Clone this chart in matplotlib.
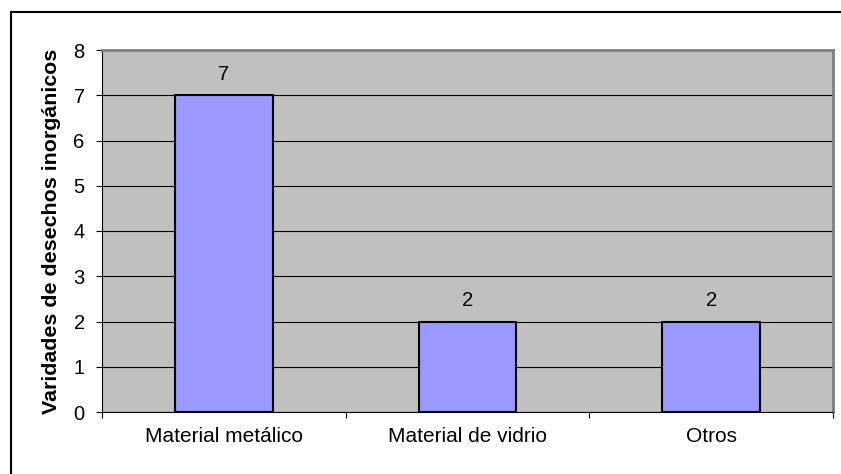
import matplotlib.pyplot as plt
from matplotlib.lines import Line2D

plt.rcParams['font.family'] = ['Liberation Sans', 'DejaVu Sans']

categorias = ['Material metálico', 'Material de vidrio', 'Otros']
cantidades = [7, 2, 2]
y_ticks = [0, 1, 2, 3, 4, 5, 6, 7, 8]

fig = plt.figure(figsize=(8.41, 4.74), dpi=100)
ax = fig.add_axes([102 / 841, 62 / 474, 731 / 841, 362 / 474])
ax.set_facecolor('#C0C0C0')

x = list(range(len(categorias)))
bars = ax.bar(x, cantidades, width=0.4, color='#9999FF', edgecolor='black',
              linewidth=1.5, zorder=3)

for b, v in zip(bars, cantidades):
    ax.annotate(str(v), (b.get_x() + b.get_width() / 2, v),
                xytext=(0, 8), textcoords='offset points',
                ha='center', va='bottom', fontsize=14.5)

ax.set_xlim(-0.5, len(categorias) - 0.5)
ax.set_ylim(0, 8)
ax.set_yticks(y_ticks)
ax.yaxis.grid(True, color='black', linewidth=0.8, zorder=1)
ax.set_axisbelow(True)

# ticks on category boundaries, labels centred under bars
ax.set_xticks([i - 0.5 for i in range(len(categorias) + 1)])
ax.set_xticklabels([])
ax.set_xticks(x, minor=True)
ax.set_xticklabels(categorias, minor=True, fontsize=15)
ax.tick_params(axis='x', which='minor', length=0, pad=11)
ax.tick_params(axis='x', which='major', length=4.5, direction='out', color='black')
ax.tick_params(axis='y', length=4.5, direction='out', labelsize=14.5, pad=8)

for side in ['top', 'right']:
    ax.spines[side].set_color('#808080')
    ax.spines[side].set_linewidth(2)
ax.spines['left'].set_color('black')
ax.spines['bottom'].set_color('black')
ax.spines['left'].set_linewidth(0.8)
ax.spines['bottom'].set_linewidth(0.8)

ax.set_ylabel('Varidades de desechos inorgánicos', fontsize=15.4,
              fontweight='bold', labelpad=9)

# chart frame
fig.add_artist(Line2D([11 / 841, 11 / 841], [0, 462 / 474], color='black',
                      linewidth=1.5, transform=fig.transFigure))
fig.add_artist(Line2D([11 / 841, 1], [462 / 474, 462 / 474], color='black',
                      linewidth=1.5, transform=fig.transFigure))

fig.savefig('out.png', dpi=100)
